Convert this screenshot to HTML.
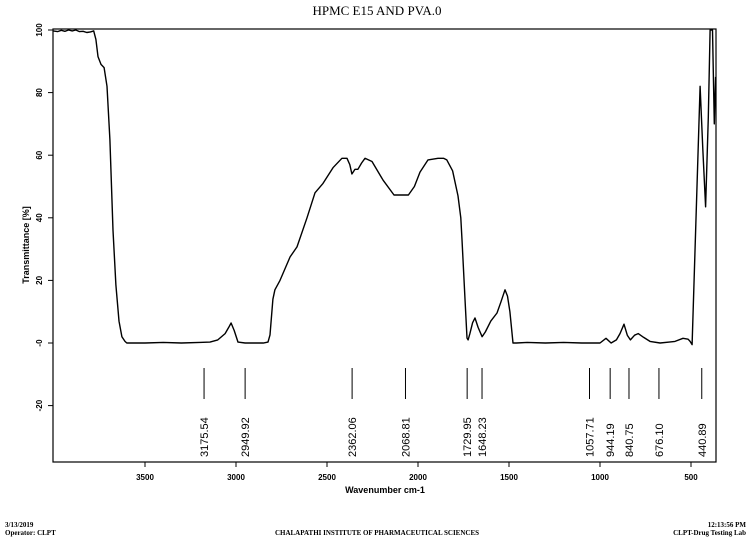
<!DOCTYPE html>
<html><head><meta charset="utf-8"><style>
body{margin:0;background:#fff;width:753px;height:543px;overflow:hidden}
svg{display:block}
</style></head><body>
<svg id="chart" width="753" height="543" xmlns="http://www.w3.org/2000/svg" font-family="Liberation Sans, sans-serif">
<text x="377" y="15" text-anchor="middle" font-family="Liberation Serif, serif" font-size="13">HPMC E15 AND PVA.0</text>
<rect x="53" y="29" width="663" height="433" fill="none" stroke="#000" stroke-width="1.2"/>
<g id="xticks"></g><g id="yticks"></g><g id="peaks"></g>
<path id="trace" fill="none" stroke="#000" stroke-width="1.4" stroke-linejoin="round"/>
<text x="385" y="493" text-anchor="middle" font-size="9" font-weight="bold">Wavenumber cm-1</text>
<text transform="translate(29,245) rotate(-90)" text-anchor="middle" font-size="9" font-weight="bold">Transmittance [%]</text>
<g font-family="Liberation Serif, serif" font-size="7" font-weight="bold">
<text x="5" y="527">3/13/2019</text>
<text x="5" y="535">Operator: CLPT</text>
<text x="377" y="535" text-anchor="middle">CHALAPATHI INSTITUTE OF PHARMACEUTICAL SCIENCES</text>
<text x="746" y="527" text-anchor="end">12:13:56 PM</text>
<text x="746" y="535" text-anchor="end">CLPT-Drug Testing Lab</text>
</g>
</svg>
<script>
const xTicks=[3500,3000,2500,2000,1500,1000,500];
const yTicks=[100,80,60,40,20,0,-20];
const yTickLabels=["100","80","60","40","20","-0","-20"];
const peakWaves=[3175.54,2949.92,2362.06,2068.81,1729.95,1648.23,1057.71,944.19,840.75,676.10,440.89];
const peakLabels=["3175.54","2949.92","2362.06","2068.81","1729.95","1648.23","1057.71","944.19","840.75","676.10","440.89"];
const waves=[4005,3980,3960,3940,3920,3900,3880,3860,3840,3820,3800,3782,3770,3758,3742,3725,3709,3693,3676,3660,3643,3627,3610,3600,3500,3400,3300,3200,3143,3100,3060,3040,3027,3010,2989,2950,2900,2850,2824,2813,2797,2786,2758,2703,2665,2610,2566,2522,2467,2418,2390,2375,2363,2346,2330,2310,2291,2253,2192,2132,2100,2053,2020,1989,1945,1890,1860,1842,1810,1780,1765,1758,1742,1731,1725,1715,1700,1687,1670,1648,1630,1600,1566,1545,1522,1508,1495,1478,1460,1400,1300,1200,1100,1000,967,939,910,890,868,850,833,810,790,760,725,670,620,588,544,516,505,494,450,435,420,405,395,382,372,365];
const trans=[99.7,99.5,99.9,99.6,100,99.7,100,99.5,99.6,99.2,99.4,99.7,97,91.5,89,88,82,65,36,18.5,7,2,0.5,0,0,0.2,0,0.2,0.3,1,3,5,6.4,4,0.3,0,0,0,0.3,2.6,14,17,20,27.5,30.7,40,48,51,56,59,59,57,54,55.5,55.5,57.5,59,58,52,47.3,47.3,47.3,50,54.6,58.5,59,59,58.5,55,47,40,33,14,1.6,1,3,6.5,8,5,2,3.5,7,9.6,13,17,15,10,0,0,0.2,0,0.2,0,0,1.5,0,1,3,6,2.5,1,2.5,3,1.8,0.5,0,0.3,0.5,1.5,1.2,0.5,-0.5,82,62,43.5,72,100,100,70,85];
const NS="http://www.w3.org/2000/svg";
const x=w=>145+(3500-w)*0.182;
const y=v=>343-v*3.13;
function mk(tag,attrs,parent){const e=document.createElementNS(NS,tag);for(const k in attrs)e.setAttribute(k,attrs[k]);parent.appendChild(e);return e;}
const xt=document.getElementById('xticks');
xTicks.forEach(t=>{
 const l=mk('line',{x1:x(t),x2:x(t),y1:462,y2:467,stroke:'#000'},xt);
 
 
 const s=mk('text',{x:x(t),y:480,'text-anchor':'middle','font-size':8,'font-weight':'bold'},xt);s.textContent=t;
 
 
});
const yt=document.getElementById('yticks');
yTicks.forEach((t,i)=>{
 const l=mk('line',{x1:48,x2:53,y1:y(t),y2:y(t),stroke:'#000'},yt);
 
 
 const s=mk('text',{transform:`translate(42,${y(t)}) rotate(-90)`,'text-anchor':'middle','font-size':8,'font-weight':'bold'},yt);s.textContent=yTickLabels[i];
 
 
});
const pk=document.getElementById('peaks');
peakWaves.forEach((w,i)=>{
 const l=mk('line',{x1:x(w),x2:x(w),y1:368,y2:399,stroke:'#000'},pk);
 
 
 const s=mk('text',{transform:`translate(${x(w)+4},457) rotate(-90)`,'font-size':11},pk);s.textContent=peakLabels[i];
 
 
});
document.getElementById('trace').setAttribute('d',waves.map((w,i)=>(i?'L':'M')+Math.min(x(w),716).toFixed(1)+','+y(Math.min(trans[i],100.3)).toFixed(1)).join(''));
</script>
</body></html>
